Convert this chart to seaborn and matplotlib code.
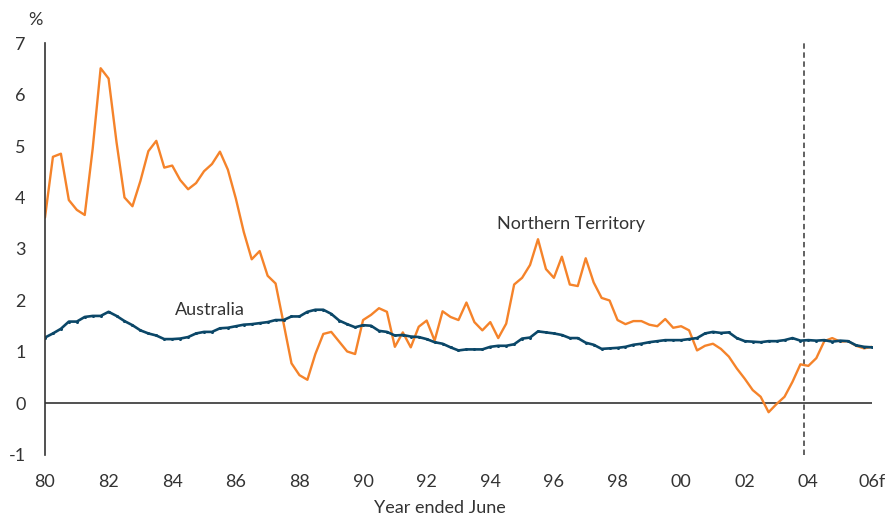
import numpy as np
import pandas as pd
import matplotlib
matplotlib.use("Agg")
import matplotlib.pyplot as plt
import seaborn as sns

# quarterly, year ended June, 1980 to 2006 (forecast)
northern_territory = [
    3.61, 4.79, 4.85, 3.95, 3.76, 3.66, 4.95, 6.51, 6.31, 5.07,
    4.00, 3.83, 4.32, 4.90, 5.10, 4.58, 4.62, 4.34, 4.16, 4.28,
    4.51, 4.65, 4.89, 4.54, 3.98, 3.33, 2.80, 2.96, 2.48, 2.33,
    1.56, 0.78, 0.55, 0.46, 0.96, 1.35, 1.39, 1.20, 1.01, 0.96,
    1.62, 1.72, 1.85, 1.78, 1.10, 1.38, 1.09, 1.49, 1.61, 1.22,
    1.79, 1.68, 1.62, 1.96, 1.58, 1.42, 1.58, 1.27, 1.55, 2.31,
    2.44, 2.69, 3.19, 2.61, 2.44, 2.85, 2.31, 2.28, 2.82, 2.35,
    2.05, 2.00, 1.62, 1.54, 1.60, 1.60, 1.53, 1.50, 1.64, 1.47,
    1.50, 1.42, 1.03, 1.12, 1.16, 1.06, 0.91, 0.68, 0.48, 0.26,
    0.13, -0.17, -0.01, 0.13, 0.42, 0.76, 0.73, 0.88, 1.21, 1.27,
    1.20, 1.21, 1.12, 1.07, 1.10,
]
australia = [
    1.28, 1.36, 1.45, 1.59, 1.59, 1.68, 1.70, 1.70, 1.78, 1.70,
    1.60, 1.52, 1.42, 1.36, 1.32, 1.25, 1.25, 1.26, 1.29, 1.36,
    1.39, 1.39, 1.46, 1.47, 1.50, 1.53, 1.54, 1.56, 1.58, 1.62,
    1.62, 1.69, 1.69, 1.78, 1.82, 1.82, 1.74, 1.61, 1.54, 1.48,
    1.52, 1.51, 1.41, 1.39, 1.32, 1.33, 1.30, 1.29, 1.25, 1.19,
    1.16, 1.09, 1.03, 1.05, 1.05, 1.05, 1.10, 1.12, 1.12, 1.15,
    1.26, 1.28, 1.40, 1.38, 1.36, 1.33, 1.27, 1.27, 1.18, 1.14,
    1.06, 1.07, 1.08, 1.10, 1.14, 1.16, 1.19, 1.21, 1.23, 1.23,
    1.23, 1.25, 1.27, 1.36, 1.39, 1.37, 1.38, 1.27, 1.21, 1.20,
    1.19, 1.21, 1.21, 1.23, 1.27, 1.22, 1.23, 1.22, 1.23, 1.20,
    1.22, 1.21, 1.13, 1.10, 1.09,
]
quarters = 1980 + np.arange(len(australia)) / 4
tick_years = [1980, 1982, 1984, 1986, 1988, 1990, 1992, 1994, 1996, 1998, 2000, 2002, 2004, 2006]
tick_labels = ["80", "82", "84", "86", "88", "90", "92", "94", "96", "98", "00", "02", "04", "06f"]
forecast_start = 2003.85

df = pd.DataFrame({"year": quarters, "Northern Territory": northern_territory, "Australia": australia})

sns.set_style("white")
plt.rcParams["font.family"] = ["Lato", "DejaVu Sans"]
plt.rcParams["axes.unicode_minus"] = False

orange = "#f5832a"
navy = "#0b4768"
text_col = "#333333"

fig = plt.figure(figsize=(8.96, 5.17), dpi=100)
ax = fig.add_axes([0.0502, 0.12, 0.923, 0.7968])

sns.lineplot(data=df, x="year", y="Northern Territory", color=orange, linewidth=1.7, ax=ax)
sns.lineplot(data=df, x="year", y="Australia", color=navy, linewidth=1.9,
             marker="o", markersize=2.2, markeredgewidth=0, ax=ax)

ax.axhline(0, color="#333333", linewidth=1.2, zorder=1)
ax.axvline(forecast_start, color="#555555", linewidth=1.3, linestyle=(0, (3, 2)), zorder=1)

ax.set_xlim(1980, 2006)
ax.set_ylim(-1, 7)
ax.set_xticks(tick_years)
ax.set_xticklabels(tick_labels)
ax.set_yticks(range(-1, 8))
ax.tick_params(axis="both", length=0, labelsize=13, colors=text_col)
ax.tick_params(axis="x", pad=14)
ax.tick_params(axis="y", pad=14)
ax.set_xlabel("")
ax.set_ylabel("")

for side in ["top", "right", "bottom"]:
    ax.spines[side].set_visible(False)
ax.spines["left"].set_color("#333333")
ax.spines["left"].set_linewidth(1.2)

ax.text(1984.1, 1.82, "Australia", fontsize=13, color=text_col, va="center")
ax.text(1994.2, 3.49, "Northern Territory", fontsize=13, color=text_col, va="center")
fig.text(35 / 896, 1 - 20 / 517, "%", fontsize=13, color=text_col, ha="center", va="center")
fig.text(440 / 896, 1 - 508 / 517, "Year ended June", fontsize=13, color=text_col,
         ha="center", va="center")

fig.savefig("out.png", dpi=100)
